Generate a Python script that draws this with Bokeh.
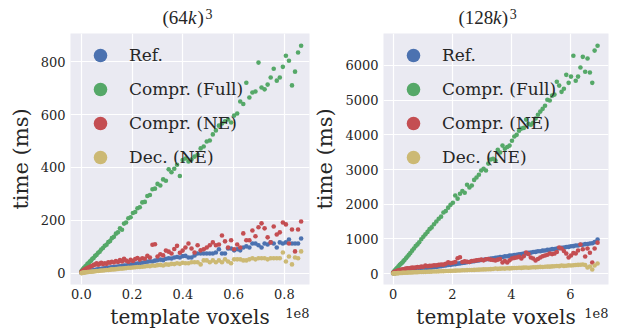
from bokeh.plotting import figure
from bokeh.models import Legend, LegendItem, FixedTicker, Range1d
from bokeh.layouts import row, column
from bokeh.core.properties import value
from bokeh.embed import file_html
from bokeh.resources import INLINE

SERIES = ["Ref.", "Compr. (Full)", "Compr. (NE)", "Dec. (NE)"]
COLORS = ["#4C72B0", "#55A868", "#C44E52", "#CCB974"]

# ---- (64k)^3 panel : template voxels in units of 1e8, time in ms ----
left_x = [0.000, 0.003, 0.006, 0.009, 0.012, 0.016, 0.020, 0.024, 0.028,
          0.033, 0.038, 0.043, 0.048, 0.054, 0.060, 0.066, 0.072, 0.078, 0.085,
          0.092, 0.099, 0.106, 0.113, 0.120, 0.128, 0.136, 0.144, 0.152, 0.160,
          0.168, 0.176, 0.185, 0.194, 0.203, 0.212, 0.221, 0.230, 0.240, 0.250,
          0.260, 0.270, 0.280, 0.290, 0.300, 0.311, 0.322, 0.333, 0.344, 0.355,
          0.366, 0.377, 0.388, 0.399, 0.410, 0.422, 0.434, 0.446, 0.458, 0.470,
          0.482, 0.494, 0.506, 0.518, 0.530, 0.542, 0.554, 0.566, 0.578, 0.590,
          0.602, 0.614, 0.626, 0.638, 0.650, 0.662, 0.674, 0.686, 0.698, 0.710,
          0.722, 0.734, 0.746, 0.758, 0.770, 0.782, 0.794, 0.806, 0.818, 0.830,
          0.842, 0.854, 0.866]
left_ref = [2, 3, 4, 5, 6, 6, 7, 8, 9,
            10, 10, 11, 12, 13, 14, 15, 16, 17, 18,
            19, 20, 21, 22, 23, 24, 25, 26, 27, 28,
            30, 30, 32, 33, 34, 36, 37, 38, 40, 42,
            44, 46, 45, 48, 50, 52, 50, 55, 57, 56,
            60, 62, 60, 65, 66, 60, 60, 68, 75, 75,
            75, 75, 75, 75, 79, 91, 75, 75, 94, 94,
            87, 91, 87, 98, 102, 98, 113, 113, 106, 98,
            113, 109, 117, 113, 98, 117, 113, 117, 128, 113,
            113, 113, 132]
left_full = [8, 12, 15, 19, 22, 27, 30, 36, 38,
             45, 48, 55, 58, 66, 70, 78, 82, 90, 96,
             104, 108, 118, 122, 133, 138, 150, 155, 170, 165,
             188, 192, 208, 212, 228, 232, 246, 250, 268, 270,
             292, 296, 318, 320, 338, 332, 355, 350, 393, 382,
             395, 410, 368, 428, 434, 423, 430, 441, 448, 472,
             479, 498, 502, 525, 540, 558, 566, 574, 581, 570,
             596, 604, 649, 640, 720, 664, 683, 687, 796, 702,
             695, 713, 740, 773, 728, 740, 780, 822, 803, 710,
             762, 834, 860]
left_ne = [5, 8, 10, 12, 14, 16, 18, 20, 22,
           24, 27, 29, 31, 34, 38, 33, 36, 40, 35,
           38, 36, 42, 40, 44, 41, 47, 43, 50, 45,
           55, 48, 44, 51, 47, 54, 58, 52, 57, 55,
           66, 60, 108, 110, 64, 72, 68, 86, 82, 75,
           92, 104, 78, 86, 98, 113, 94, 79, 106, 87,
           91, 98, 106, 117, 106, 109, 143, 121, 98, 125,
           91, 109, 98, 151, 125, 125, 162, 140, 174, 189,
           170, 136, 117, 177, 147, 155, 192, 185, 113, 166,
           83, 166, 196]
left_dec = [1, 2, 2, 3, 3, 4, 4, 5, 5,
            6, 6, 7, 7, 8, 9, 9, 10, 11, 11,
            12, 13, 13, 14, 15, 15, 16, 17, 18, 18,
            19, 20, 21, 21, 22, 23, 24, 24, 25, 26,
            28, 27, 30, 29, 31, 32, 30, 34, 33, 36,
            35, 38, 36, 40, 38, 38, 42, 42, 42, 34,
            49, 49, 42, 49, 42, 49, 42, 53, 45, 38,
            53, 53, 53, 49, 49, 53, 57, 53, 57, 57,
            57, 53, 57, 57, 57, 57, 79, 45, 64, 34,
            60, 57, 83]
left_xticks = [0.0, 0.2, 0.4, 0.6, 0.8]
left_xtick_labels = ["0.0", "0.2", "0.4", "0.6", "0.8"]
left_yticks = [0, 200, 400, 600, 800]
left_ytick_labels = ["0", "200", "400", "600", "800"]

# ---- (128k)^3 panel ----
right_x = [0.00, 0.02, 0.04, 0.06, 0.09, 0.12, 0.15, 0.18, 0.22, 0.26, 0.30,
           0.34, 0.38, 0.43, 0.48, 0.53, 0.58, 0.64, 0.70, 0.76, 0.82, 0.88,
           0.95, 1.02, 1.09, 1.16, 1.23,
           1.30, 1.38, 1.46, 1.54, 1.62, 1.70, 1.78, 1.86, 1.94, 2.02,
           2.10, 2.18, 2.26, 2.34, 2.42, 2.50, 2.58, 2.66, 2.74, 2.82,
           2.90, 2.98, 3.06, 3.14, 3.22, 3.30, 3.38, 3.46, 3.54, 3.62,
           3.70, 3.78, 3.86, 3.94, 4.02, 4.10, 4.18, 4.26, 4.34, 4.42,
           4.50, 4.58, 4.66, 4.74, 4.82, 4.90, 4.98, 5.06, 5.14, 5.22,
           5.30, 5.38, 5.46, 5.54, 5.62, 5.70, 5.78, 5.86, 5.94, 6.02,
           6.10, 6.18, 6.26, 6.34, 6.42, 6.50, 6.58, 6.66, 6.74, 6.82,
           6.92]
right_ref = [5, 8, 10, 12, 15, 20, 22, 26, 30, 35, 40,
             45, 50, 57, 63, 70, 76, 84, 92, 100, 108, 116,
             125, 134, 143, 152, 160,
             170, 182, 188, 203, 208, 224, 230, 245, 250, 264,
             270, 285, 292, 306, 312, 328, 333, 348, 354, 368,
             375, 390, 395, 410, 416, 431, 436, 452, 458, 472,
             478, 494, 500, 515, 520, 535, 540, 556, 561, 577,
             582, 598, 602, 619, 623, 640, 644, 660, 664, 681,
             685, 702, 706, 722, 727, 744, 747, 764, 768, 786,
             789, 806, 810, 828, 831, 848, 852, 868, 873, 905,
             980]
right_full = [30, 50, 70, 90, 120, 150, 175, 210, 250, 280, 310,
              350, 390, 440, 490, 540, 590, 660, 720, 790, 840, 900,
              990, 1060, 1130, 1200, 1280,
              1330, 1420, 1500, 1580, 1640, 1760, 1800, 1900, 1980, 2040,
              2250, 2160, 2300, 2380, 2330, 2560, 2480, 2540, 2700, 2770,
              2850, 2970, 3020, 2970, 3170, 3290, 3310, 3260, 3570, 3490,
              3690, 3600, 3650, 3690, 3830, 3950, 4000, 4120, 4180, 4200,
              4440, 4320, 4290, 4350, 4470, 4580, 4670, 4750, 4840, 5010,
              4990, 5130, 5160, 5530, 5420, 5240, 5330, 5730, 5500, 5680,
              6280, 5560, 5680, 5940, 6250, 5820, 6200, 5800, 5500, 6430,
              6570]
right_ne = [20, 30, 40, 50, 60, 70, 80, 90, 100, 110, 115,
            125, 130, 140, 150, 145, 160, 170, 165, 175, 185, 180,
            200, 195, 230, 210, 220,
            225, 240, 235, 250, 260, 255, 280, 320, 300, 310,
            330, 440, 470, 330, 350, 340, 330, 360, 370, 380,
            390, 400, 380, 410, 420, 400, 390, 375, 400, 420,
            317, 360, 317, 380, 432, 450, 461, 480, 432, 500,
            605, 560, 461, 432, 375, 420, 461, 500, 519, 540,
            576, 560, 576, 620, 750, 720, 650, 576, 461, 520,
            590, 576, 663, 836, 700, 490, 720, 600, 317, 720,
            890]
right_dec = [0, 2, 4, 5, 7, 9, 10, 12, 14, 16, 18,
             20, 22, 24, 26, 28, 30, 32, 35, 37, 39, 42,
             44, 46, 48, 51, 53,
             55, 58, 60, 63, 65, 68, 71, 73, 76, 78,
             82, 85, 88, 92, 95, 98, 100, 102, 104, 108,
             112, 116, 118, 120, 124, 126, 130, 144, 135, 140,
             145, 142, 150, 148, 155, 160, 158, 165, 162, 170,
             173, 168, 175, 180, 178, 185, 190, 188, 195, 200,
             198, 205, 210, 215, 212, 230, 220, 225, 235, 230,
             240, 245, 250, 255, 259, 245, 173, 200, 115, 230,
             290]
right_xticks = [0, 2, 4, 6]
right_xtick_labels = ["0", "2", "4", "6"]
right_yticks = [0, 1000, 2000, 3000, 4000, 5000, 6000]
right_ytick_labels = ["0", "1000", "2000", "3000", "4000", "5000", "6000"]

TEXT = "#262626"
SERIF = "DejaVu Serif"
TOP_H, MAIN_H, BOT_H = 33, 271, 25
FRAME_H = 251


def strip(width, mbl, mbr, height):
    fw = width - mbl - mbr
    s = figure(width=width, height=height, x_range=Range1d(0, fw),
               y_range=Range1d(0, height), output_backend="svg",
               toolbar_location=None, min_border_left=mbl, min_border_right=mbr,
               min_border_top=0, min_border_bottom=0)
    s.axis.visible = False
    s.grid.visible = False
    s.outline_line_color = None
    s.background_fill_color = "white"
    s.border_fill_color = "white"
    return s, fw


def txt(s, x, y, t, font, size, style="normal", align="left"):
    s.text(x=[x], y=[y], text=[t], text_font=value(font), text_font_size=size,
           text_font_style=style, text_align=align, text_baseline="middle",
           text_color=TEXT)


def panel(x, ys, xticks, xlabels, yticks, ylabels, xr, yr, width, mbl, mbr,
          title_parts):
    p = figure(width=width, height=MAIN_H, x_range=Range1d(*xr), y_range=Range1d(*yr),
               output_backend="svg", toolbar_location=None,
               min_border_left=mbl, min_border_right=mbr,
               min_border_top=0, min_border_bottom=MAIN_H - FRAME_H)
    p.background_fill_color = "#EAEAF2"
    p.border_fill_color = "white"
    p.outline_line_color = None
    for g in (p.xgrid, p.ygrid):
        g.grid_line_color = "white"
        g.grid_line_width = 1.2
    p.xaxis.ticker = FixedTicker(ticks=xticks)
    p.yaxis.ticker = FixedTicker(ticks=yticks)
    p.xaxis.major_label_overrides = dict(zip(xticks, xlabels))
    p.yaxis.major_label_overrides = dict(zip(yticks, ylabels))
    for ax in (p.xaxis, p.yaxis):
        ax.axis_line_color = None
        ax.major_tick_line_color = None
        ax.minor_tick_line_color = None
        ax.major_tick_out = 0
        ax.major_tick_in = 0
        ax.major_label_text_font = SERIF
        ax.major_label_text_font_size = "13px"
        ax.major_label_text_color = TEXT
        ax.axis_label_text_font = SERIF
        ax.axis_label_text_font_style = "normal"
        ax.axis_label_text_color = TEXT
    p.xaxis.major_label_standoff = 4
    p.yaxis.axis_label = "time (ms)"
    p.yaxis.axis_label_text_font_size = "21px"
    p.yaxis.major_label_standoff = 5
    p.yaxis.axis_label_standoff = 5

    items = []
    for name, col, yv in zip(SERIES, COLORS, ys):
        r = p.scatter(x, yv, size=4.6, fill_color=col, line_color=None, fill_alpha=1.0)
        items.append(LegendItem(label=name, renderers=[r]))
    leg = Legend(items=items, location="top_left", margin=0, padding=5,
                 glyph_width=50, glyph_height=34, spacing=-10, label_standoff=4,
                 background_fill_alpha=0, border_line_alpha=0,
                 label_text_font=SERIF, label_text_font_size="17px",
                 label_text_color=TEXT)
    p.add_layout(leg)

    top, fw = strip(width, mbl, mbr, TOP_H)
    for t, sx, sy, size, style in title_parts:
        txt(top, sx, sy, t, "Liberation Serif", size, style)

    bot, fw = strip(width, mbl, mbr, BOT_H)
    txt(bot, fw / 2, 13, "template voxels", SERIF, "20px", align="center")
    txt(bot, fw, 16.5, "1e8", SERIF, "13px", align="right")
    return column(top, p, bot, spacing=0)


left = panel(left_x, [left_ref, left_full, left_ne, left_dec],
             left_xticks, left_xtick_labels, left_yticks, left_ytick_labels,
             (-0.043, 0.899), (-42, 906), 310, 70, 1,
             [("(64", 92, 16.5, "19px", "normal"), ("k", 117.5, 16.5, "19px", "italic"),
              (")", 127, 16.5, "19px", "normal"), ("3", 135, 20, "14px", "normal")])
right = panel(right_x, [right_ref, right_full, right_ne, right_dec],
              right_xticks, right_xtick_labels, right_yticks, right_ytick_labels,
              (-0.33, 7.29), (-317, 6923), 309, 67, 11,
              [("(128", 77, 16.5, "19px", "normal"), ("k", 112.5, 16.5, "19px", "italic"),
               (")", 121.5, 16.5, "19px", "normal"), ("3", 129.5, 20, "14px", "normal")])

page = row(left, right, spacing=0)
open("out.html", "w").write(file_html(page, INLINE))
